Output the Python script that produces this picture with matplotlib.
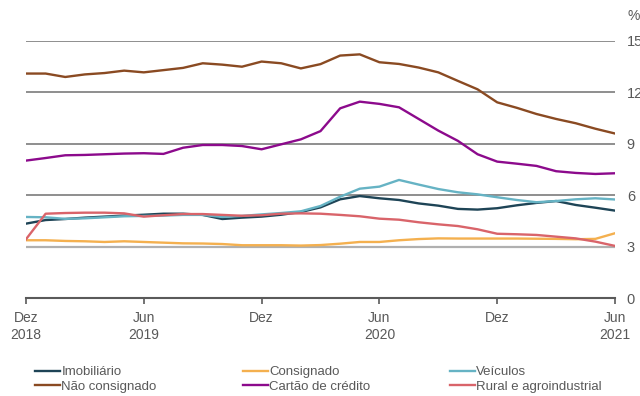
import matplotlib
matplotlib.use("Agg")
import matplotlib.pyplot as plt
import numpy as np

plt.rcParams["font.family"] = ["Liberation Sans", "DejaVu Sans"]

# Monthly series, Dec 2018 .. Jun 2021 (% )
months = np.arange(31)
imobiliario = [4.34, 4.55, 4.61, 4.69, 4.75, 4.81, 4.86, 4.92, 4.92, 4.85, 4.61,
               4.69, 4.75, 4.86, 5.02, 5.29, 5.76, 5.95, 5.82, 5.72, 5.52,
               5.39, 5.20, 5.16, 5.24, 5.41, 5.55, 5.66, 5.43, 5.27, 5.10]
consignado = [3.37, 3.37, 3.33, 3.31, 3.27, 3.31, 3.27, 3.23, 3.19, 3.18, 3.15,
              3.08, 3.08, 3.08, 3.06, 3.09, 3.17, 3.27, 3.27, 3.37, 3.44,
              3.48, 3.47, 3.47, 3.47, 3.47, 3.46, 3.45, 3.43, 3.45, 3.78]
veiculos = [4.73, 4.71, 4.62, 4.65, 4.71, 4.77, 4.79, 4.81, 4.85, 4.85, 4.73,
            4.79, 4.88, 4.96, 5.06, 5.37, 5.91, 6.38, 6.50, 6.89, 6.62,
            6.36, 6.17, 6.05, 5.88, 5.72, 5.59, 5.66, 5.76, 5.82, 5.75]
nao_consignado = [13.10, 13.10, 12.90, 13.05, 13.13, 13.27, 13.17, 13.30, 13.43, 13.70, 13.62,
                  13.50, 13.80, 13.70, 13.40, 13.65, 14.15, 14.22, 13.76, 13.66, 13.45,
                  13.17, 12.67, 12.18, 11.42, 11.10, 10.74, 10.45, 10.20, 9.88, 9.60]
cartao = [8.02, 8.17, 8.33, 8.35, 8.39, 8.43, 8.45, 8.41, 8.77, 8.93, 8.93,
          8.87, 8.68, 8.97, 9.26, 9.74, 11.07, 11.46, 11.33, 11.13, 10.45,
          9.77, 9.17, 8.39, 7.96, 7.84, 7.71, 7.40, 7.30, 7.24, 7.28]
rural = [3.43, 4.92, 4.96, 4.98, 4.98, 4.94, 4.75, 4.83, 4.90, 4.90, 4.85,
         4.80, 4.83, 4.92, 4.94, 4.92, 4.85, 4.77, 4.63, 4.57, 4.42,
         4.30, 4.20, 4.01, 3.75, 3.72, 3.68, 3.58, 3.48, 3.29, 3.04]

x_tick_pos = [0, 6, 12, 18, 24, 30]
x_tick_labels = ["Dez\n2018", "Jun\n2019", "Dez", "Jun\n2020", "Dez", "Jun\n2021"]
y_ticks = [0, 3, 6, 9, 12, 15]

series = [
    ("Imobiliário", imobiliario, "#1e4456"),
    ("Não consignado", nao_consignado, "#8a4a22"),
    ("Consignado", consignado, "#f4b04f"),
    ("Cartão de crédito", cartao, "#8c0a8c"),
    ("Veículos", veiculos, "#66b3c4"),
    ("Rural e agroindustrial", rural, "#d9646a"),
]

text_color = "#595959"

fig = plt.figure(figsize=(6.4, 3.96), dpi=100)
ax = fig.add_axes([26 / 640, 1 - 298 / 396, 589 / 640, 257 / 396])

# horizontal reference lines
for y in [6, 9, 12, 15]:
    ax.axhline(y, color="#707070", lw=1.1, zorder=1)
ax.axhline(3, color="#b0b0b0", lw=1.6, zorder=1)

handles = {}
for name, vals, col in series:
    (ln,) = ax.plot(months, vals, color=col, lw=1.7, label=name, zorder=3,
                    solid_joinstyle="round")
    handles[name] = ln

ax.set_xlim(0, 30)
ax.set_ylim(0, 15)

for side in ["top", "right", "left"]:
    ax.spines[side].set_visible(False)
ax.spines["bottom"].set_color("#5a5a5a")
ax.spines["bottom"].set_linewidth(1.5)

ax.set_xticks(x_tick_pos)
ax.set_xticklabels(x_tick_labels, linespacing=1.35)
ax.tick_params(axis="x", direction="out", length=4, width=1.2, color="#5a5a5a",
               labelsize=10, labelcolor=text_color, pad=5)

ax.yaxis.tick_right()
ax.set_yticks(y_ticks)
ax.tick_params(axis="y", length=0, pad=8.5, labelsize=10.5, labelcolor=text_color)

fig.text(627 / 640, 1 - 16 / 396, "%", fontsize=10, color=text_color,
         ha="left", va="center")

# legend: three columns of two entries
columns = [
    (35, ["Imobiliário", "Não consignado"]),
    (243, ["Consignado", "Cartão de crédito"]),
    (450, ["Veículos", "Rural e agroindustrial"]),
]
for xpx, names in columns:
    fig.legend([handles[n] for n in names], names,
               loc="upper left", bbox_to_anchor=(xpx / 640, 1 - 366 / 396),
               frameon=False, borderpad=0, borderaxespad=0,
               handlelength=1.9, handletextpad=0.1, labelspacing=0.2,
               fontsize=9.5, labelcolor=text_color)

fig.savefig("out.png", dpi=100)
